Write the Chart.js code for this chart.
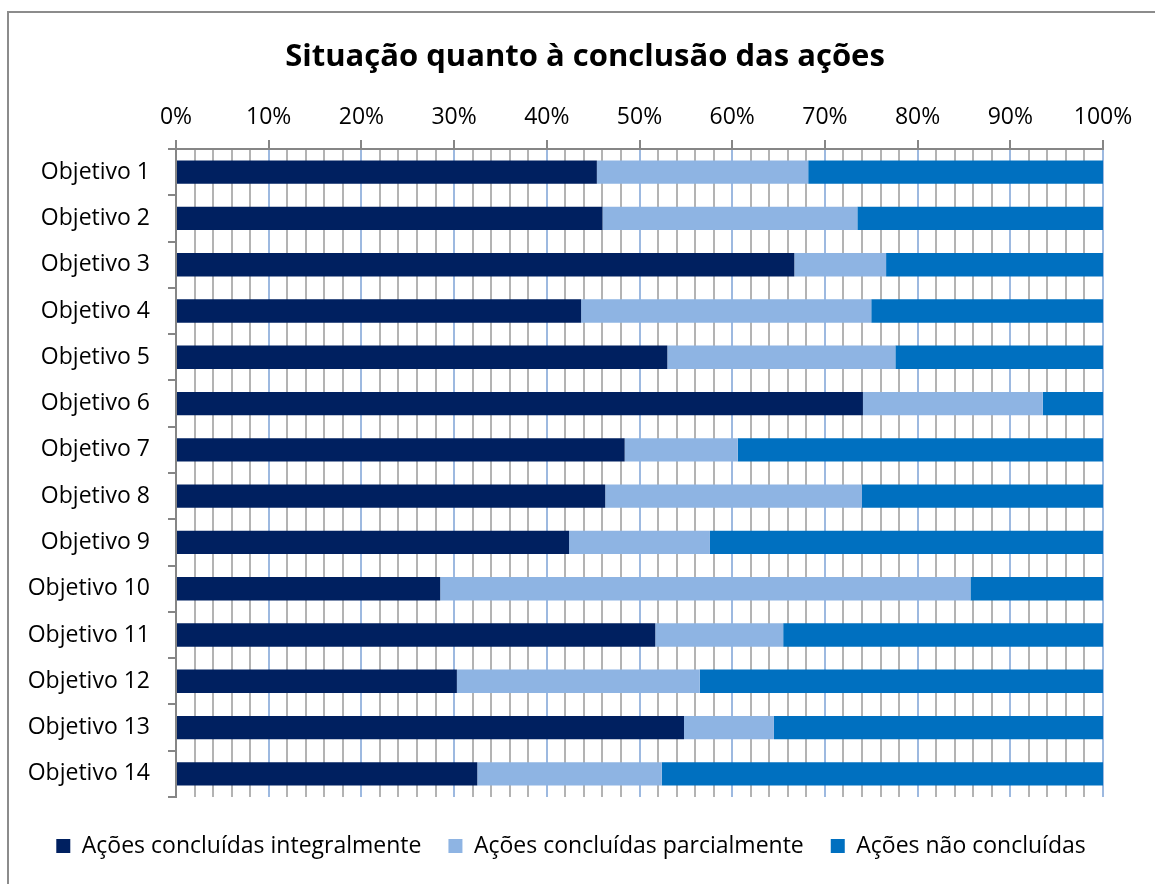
<!DOCTYPE html>
<html lang="pt-br">
<head>
  <meta charset="UTF-8" />
  <title>Situação quanto à conclusão das ações</title>
  <script src="https://cdn.jsdelivr.net/npm/chart.js"></script>
  <style>
    html, body { margin: 0; padding: 0; background: #fff; overflow: hidden; }
    #frame {
      position: absolute; left: 7px; top: 11px; width: 1300px; height: 1000px;
      border-left: 2px solid #8c8c8c; border-top: 2px solid #8c8c8c;
    }
    #wrap { position: absolute; left: 0; top: 0; width: 1155px; height: 884px; }
  </style>
</head>
<body>
  <div id="frame"></div>
  <div id="wrap"><canvas id="chart" width="1155" height="884"></canvas></div>

  <script>
    const categories = ["Objetivo 1", "Objetivo 2", "Objetivo 3", "Objetivo 4", "Objetivo 5", "Objetivo 6", "Objetivo 7",
      "Objetivo 8", "Objetivo 9", "Objetivo 10", "Objetivo 11", "Objetivo 12", "Objetivo 13", "Objetivo 14"];
    const integral = [45.4, 46.0, 66.7, 43.7, 53.0, 74.1, 48.4, 46.3, 42.4, 28.5, 51.7, 30.3, 54.8, 32.5];
    const parcial  = [22.8, 27.5, 9.9, 31.3, 24.6, 19.4, 12.2, 27.7, 15.2, 57.2, 13.8, 26.2, 9.7, 19.9];
    const naoConcl = [31.8, 26.5, 23.4, 25.0, 22.4, 6.5, 39.4, 26.0, 42.4, 14.3, 34.5, 43.5, 35.5, 47.6];
    const seriesNames = ["Ações concluídas integralmente", "Ações concluídas parcialmente", "Ações não concluídas"];
    const seriesColors = ["#002060", "#8EB4E3", "#0070C0"];

    const FONT = "Open Sans";

    const ds = [integral, parcial, naoConcl].map((data, i) => ({
      label: seriesNames[i],
      data,
      backgroundColor: seriesColors[i],
      borderWidth: 0,
      barPercentage: 0.505,
      categoryPercentage: 1.0
    }));

    // title and legend are centred on the outer frame, not on the plot
    const shiftBoxes = {
      id: "shiftBoxes",
      afterLayout(chart) {
        const t = chart.titleBlock, l = chart.legend;
        if (t) { t.left += 33.5; t.right += 33.5; }
        if (l) { l.left += 19.5; l.right += 19.5; l.top += 10.5; l.bottom += 10.5; }
      }
    };

    new Chart(document.getElementById("chart"), {
      type: "bar",
      data: { labels: categories, datasets: ds },
      plugins: [shiftBoxes],
      options: {
        responsive: false,
        animation: false,
        indexAxis: "y",
        layout: { padding: { left: 0, right: 52, top: 12, bottom: 27 } },
        plugins: {
          title: {
            display: true,
            text: "Situação quanto à conclusão das ações",
            color: "#000",
            font: { family: FONT, size: 31, weight: "bold" },
            padding: { top: 27, bottom: 10 }
          },
          legend: {
            position: "bottom",
            labels: {
              color: "#000",
              font: { family: FONT, size: 23 },
              boxWidth: 14,
              boxHeight: 14,
              padding: 27
            }
          },
          tooltip: { enabled: false }
        },
        scales: {
          x: {
            position: "top",
            stacked: true,
            min: 0,
            max: 100,
            afterFit: (s) => { s.height = 62.8; },
            ticks: {
              stepSize: 2,
              autoSkip: false,
              maxRotation: 0,
              padding: 9,
              color: "#000",
              font: { family: FONT, size: 23 },
              callback: (v) => (v % 10 === 0 ? v + "%" : "")
            },
            grid: {
              color: (c) => (c.tick && c.tick.value % 10 === 0 ? "#9DB9E0" : "#B3B3B3"),
              lineWidth: 2,
              tickLength: 9,
              tickColor: (c) => (c.tick && c.tick.value % 10 === 0 ? "#868686" : "rgba(0,0,0,0)"),
              tickWidth: 2
            },
            border: { color: "#868686", width: 2 }
          },
          y: {
            stacked: true,
            afterFit: (s) => { s.width = 176; },
            ticks: {
              padding: 18,
              color: "#000",
              font: { family: FONT, size: 23 }
            },
            grid: {
              offset: true,
              drawOnChartArea: false,
              tickLength: 8,
              color: "#868686",
              lineWidth: 2
            },
            border: { color: "#868686", width: 2 }
          }
        }
      }
    });
  </script>
</body>
</html>
